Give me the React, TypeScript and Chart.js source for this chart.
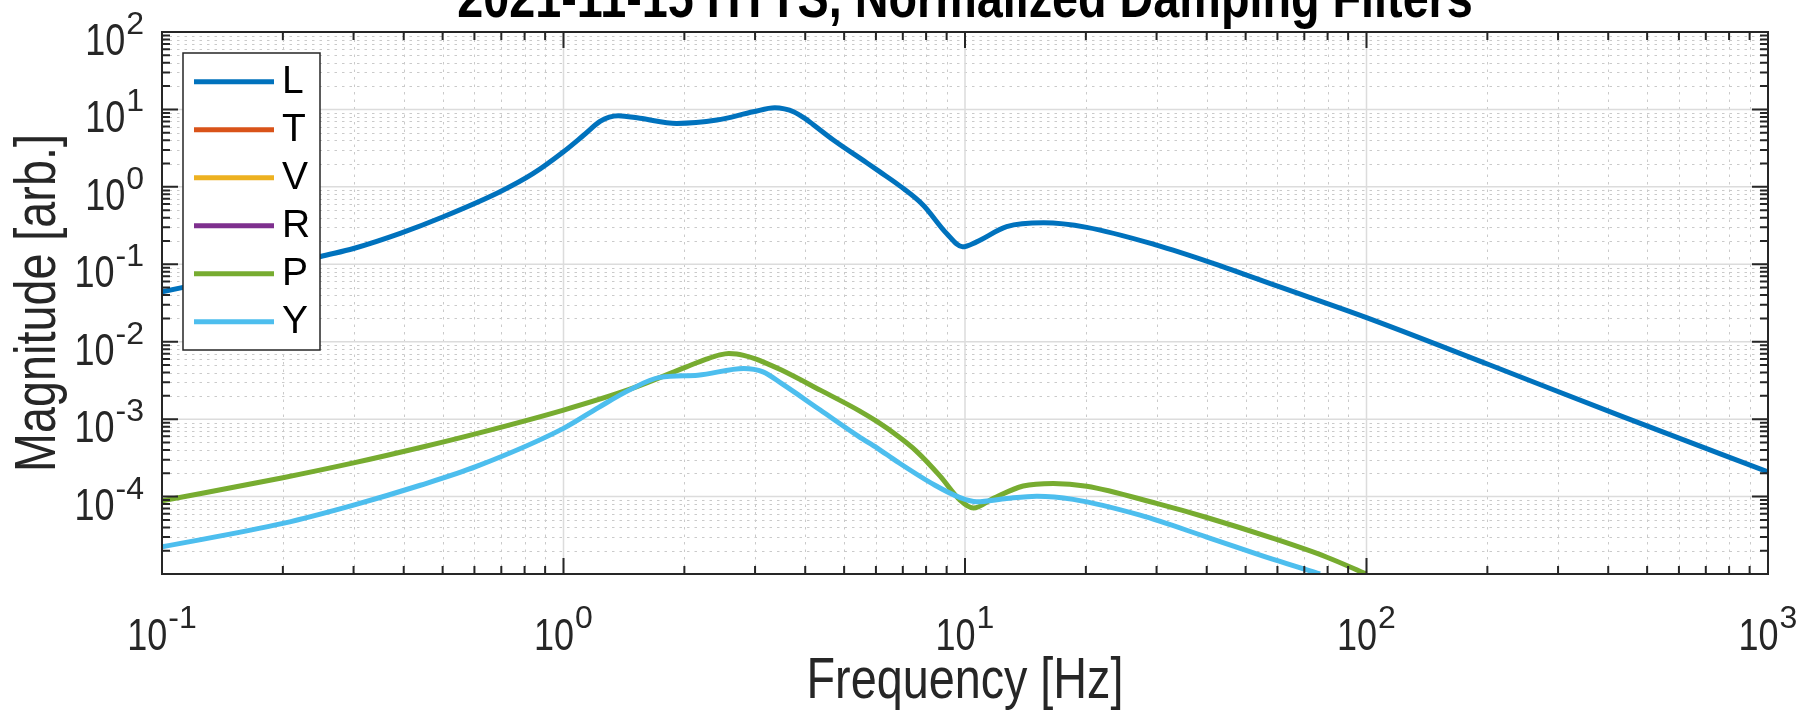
import React, { useEffect, useRef } from "react";
import { Chart, registerables } from "chart.js";

Chart.register(...registerables);

// ---------------- data ----------------
const TITLE = "2021-11-15 HTTS, Normalized Damping Filters";
const X_LABEL = "Frequency [Hz]";
const Y_LABEL = "Magnitude [arb.]";

const SERIES_NAMES = ["L", "T", "V", "R", "P", "Y"];
const SERIES_COLORS = ["#0072BD", "#D95319", "#EDB120", "#7E2F8E", "#77AC30", "#4DBEEE"];

const X_MIN = 0.1;
const X_MAX = 1000;
const Y_MIN = 1e-5;
const Y_MAX = 100;

// decade exponents used for grid / tick marks / tick labels
const X_DECADES = [-1, 0, 1, 2, 3];
const Y_DECADES = [-5, -4, -3, -2, -1, 0, 1, 2];
const X_LABELED_EXPONENTS = [-1, 0, 1, 2, 3];
const Y_LABELED_EXPONENTS = [-4, -3, -2, -1, 0, 1, 2];
const MINOR_MULTIPLIERS = [2, 3, 4, 5, 6, 7, 8, 9];

const L_FREQ = [0.1, 0.15, 0.2, 0.247, 0.3, 0.392, 0.502, 0.695, 0.841, 1.0, 1.12, 1.233, 1.3, 1.369, 1.55, 1.914, 2.41, 2.97, 3.36, 3.55, 3.74, 4.0, 4.19, 4.7, 5.69, 6.14, 6.88, 7.87, 9.0, 9.86, 10.69, 12.7, 15.7, 20.1, 30, 41.5, 60.8, 100, 203, 436, 1000];
const L_MAG = [0.0442, 0.068, 0.092, 0.125, 0.16, 0.251, 0.411, 0.865, 1.49, 2.84, 4.6, 7.0, 7.95, 8.29, 7.67, 6.6, 7.29, 9.33, 10.5, 10.15, 9.35, 7.6, 6.35, 4.03, 2.05, 1.56, 1.03, 0.58, 0.25, 0.168, 0.195, 0.306, 0.343, 0.3, 0.177, 0.103, 0.051, 0.0205, 0.005, 0.00107, 0.000208];

const T_FREQ: number[] = [];
const T_MAG: number[] = [];
const V_FREQ: number[] = [];
const V_MAG: number[] = [];
const R_FREQ: number[] = [];
const R_MAG: number[] = [];

const P_FREQ = [0.1, 0.2, 0.3, 0.44, 0.607, 1.0, 1.458, 2.025, 2.26, 2.45, 2.58, 2.7, 2.81, 3.006, 3.14, 3.49, 4.36, 5.43, 6.06, 6.76, 7.55, 8.66, 9.72, 10.49, 11.77, 13.96, 16.6, 20.1, 30, 40, 58.6, 79.4, 100];
const P_MAG = [8.8e-5, 1.75e-4, 2.72e-4, 4.3e-4, 6.5e-4, 1.31e-3, 2.42e-3, 4.74e-3, 5.9e-3, 6.75e-3, 7.05e-3, 6.95e-3, 6.65e-3, 6.0e-3, 5.5e-3, 4.3e-3, 2.37e-3, 1.3e-3, 9.2e-4, 6.2e-4, 3.9e-4, 1.85e-4, 9.0e-5, 7.1e-5, 9.5e-5, 1.37e-4, 1.48e-4, 1.36e-4, 8.15e-5, 5.37e-5, 2.88e-5, 1.66e-5, 1.0e-5];

const Y_FREQ = [0.1, 0.2, 0.3, 0.44, 0.607, 1.0, 1.224, 1.458, 1.737, 2.16, 2.81, 3.14, 3.49, 4.36, 5.43, 6.06, 6.76, 8.42, 9.72, 10.69, 12.7, 15.1, 18.6, 27.3, 40, 58.6, 76.6];
const Y_MAG = [2.24e-5, 4.5e-5, 7.75e-5, 1.4e-4, 2.45e-4, 7.6e-4, 1.42e-3, 2.37e-3, 3.46e-3, 3.7e-3, 4.52e-3, 4.08e-3, 2.89e-3, 1.31e-3, 6.0e-4, 4.2e-4, 2.85e-4, 1.4e-4, 9.7e-5, 8.55e-5, 9.45e-5, 1.01e-4, 9.2e-5, 5.75e-5, 3.0e-5, 1.54e-5, 1.0e-5];

const SERIES_FREQ = [L_FREQ, T_FREQ, V_FREQ, R_FREQ, P_FREQ, Y_FREQ];
const SERIES_MAG = [L_MAG, T_MAG, V_MAG, R_MAG, P_MAG, Y_MAG];

// ---------------- style ----------------
const FONT = "'Liberation Sans', Arial, sans-serif";
const NARROW = 0.82; // horizontal squeeze to mimic a narrow Helvetica
const TICK_NARROW = 0.8;
const AXIS_COLOR = "#262626";
const MAJOR_GRID = "#dcdcdc";
const MINOR_GRID = "#cacaca";
const TICK_FONT = 45;
const SUP_FONT = 32;
const LABEL_FONT = 57;
const TITLE_FONT = 57;
const LEGEND_FONT = 39;
const LINE_W = 5;

function majors(exps: number[]) {
  return exps.map((e) => Math.pow(10, e));
}
function minors(exps: number[]) {
  const out: number[] = [];
  exps.slice(0, -1).forEach((e) => MINOR_MULTIPLIERS.forEach((k) => out.push(k * Math.pow(10, e))));
  return out;
}

function narrowText(ctx: CanvasRenderingContext2D, text: string, x: number, y: number, align: CanvasTextAlign, rotate = 0, sx = NARROW) {
  ctx.save();
  ctx.translate(x, y);
  if (rotate) ctx.rotate(rotate);
  ctx.scale(sx, 1);
  ctx.textAlign = align;
  ctx.fillText(text, 0, 0);
  ctx.restore();
}

function drawPow(ctx: CanvasRenderingContext2D, exp: number, anchorX: number, baseline: number, align: "right" | "center", raise: number) {
  const base = "10";
  const sup = String(exp);
  ctx.font = `${TICK_FONT}px ${FONT}`;
  const wb = ctx.measureText(base).width * TICK_NARROW;
  ctx.font = `${SUP_FONT}px ${FONT}`;
  const ws = ctx.measureText(sup).width;
  const gap = 1;
  const total = wb + gap + ws;
  const left = align === "right" ? anchorX - total : anchorX - total / 2;
  ctx.textBaseline = "alphabetic";
  ctx.font = `${TICK_FONT}px ${FONT}`;
  narrowText(ctx, base, left, baseline, "left", 0, TICK_NARROW);
  ctx.font = `${SUP_FONT}px ${FONT}`;
  narrowText(ctx, sup, left + wb + gap, baseline - raise, "left", 0, 1);
}

const matlabAxes = {
  id: "matlabAxes",
  beforeDatasetsDraw(chart: any) {
    const { ctx, chartArea: a } = chart;
    const xs = chart.scales.x;
    const ys = chart.scales.y;
    ctx.save();
    ctx.fillStyle = "#ffffff";
    ctx.fillRect(a.left, a.top, a.right - a.left, a.bottom - a.top);
    // minor grid (dotted)
    ctx.strokeStyle = MINOR_GRID;
    ctx.lineWidth = 1;
    ctx.setLineDash([2.5, 5]);
    ctx.beginPath();
    for (const v of minors(X_DECADES)) {
      const p = Math.round(xs.getPixelForValue(v)) + 0.5;
      ctx.moveTo(p, a.top);
      ctx.lineTo(p, a.bottom);
    }
    for (const v of minors(Y_DECADES)) {
      const p = Math.round(ys.getPixelForValue(v)) + 0.5;
      ctx.moveTo(a.left, p);
      ctx.lineTo(a.right, p);
    }
    ctx.stroke();
    // major grid (solid)
    ctx.setLineDash([]);
    ctx.strokeStyle = MAJOR_GRID;
    ctx.lineWidth = 1.5;
    ctx.beginPath();
    for (const v of majors(X_DECADES)) {
      const p = xs.getPixelForValue(v);
      ctx.moveTo(p, a.top);
      ctx.lineTo(p, a.bottom);
    }
    for (const v of majors(Y_DECADES)) {
      const p = ys.getPixelForValue(v);
      ctx.moveTo(a.left, p);
      ctx.lineTo(a.right, p);
    }
    ctx.stroke();
    ctx.restore();
  },
  afterDatasetsDraw(chart: any) {
    const { ctx, chartArea: a } = chart;
    const xs = chart.scales.x;
    const ys = chart.scales.y;
    ctx.save();
    // tick marks, inward on all four sides
    ctx.strokeStyle = AXIS_COLOR;
    ctx.lineWidth = 2;
    ctx.beginPath();
    const xTicks = [...majors(X_DECADES).map((v) => [v, 16]), ...minors(X_DECADES).map((v) => [v, 8])];
    for (const [v, len] of xTicks) {
      const p = xs.getPixelForValue(v);
      ctx.moveTo(p, a.bottom);
      ctx.lineTo(p, a.bottom - len);
      ctx.moveTo(p, a.top);
      ctx.lineTo(p, a.top + len);
    }
    const yTicks = [...majors(Y_DECADES).map((v) => [v, 16]), ...minors(Y_DECADES).map((v) => [v, 8])];
    for (const [v, len] of yTicks) {
      const p = ys.getPixelForValue(v);
      ctx.moveTo(a.left, p);
      ctx.lineTo(a.left + len, p);
      ctx.moveTo(a.right, p);
      ctx.lineTo(a.right - len, p);
    }
    ctx.stroke();
    // axes box
    ctx.strokeRect(a.left, a.top, a.right - a.left, a.bottom - a.top);

    // tick labels
    ctx.fillStyle = AXIS_COLOR;
    for (const e of X_LABELED_EXPONENTS) {
      const p = xs.getPixelForValue(Math.pow(10, e));
      drawPow(ctx, e, p, a.bottom + 76, "center", 22);
    }
    for (const e of Y_LABELED_EXPONENTS) {
      const p = ys.getPixelForValue(Math.pow(10, e));
      drawPow(ctx, e, a.left - 18, p + 23, "right", 21);
    }

    // axis labels
    ctx.font = `${LABEL_FONT}px ${FONT}`;
    ctx.textBaseline = "alphabetic";
    narrowText(ctx, X_LABEL, (a.left + a.right) / 2, a.bottom + 124, "center");
    narrowText(ctx, Y_LABEL, a.left - 107, (a.top + a.bottom) / 2, "center", -Math.PI / 2);

    // legend
    const lx = a.left + 21;
    const ly = a.top + 21;
    const lw = 137;
    const lh = 297;
    ctx.fillStyle = "#ffffff";
    ctx.fillRect(lx, ly, lw, lh);
    ctx.strokeStyle = AXIS_COLOR;
    ctx.lineWidth = 1.5;
    ctx.strokeRect(lx, ly, lw, lh);
    ctx.font = `${LEGEND_FONT}px ${FONT}`;
    ctx.textBaseline = "middle";
    SERIES_NAMES.forEach((name, i) => {
      const cy = ly + 28.7 + i * 48;
      ctx.strokeStyle = SERIES_COLORS[i];
      ctx.lineWidth = LINE_W;
      ctx.beginPath();
      ctx.moveTo(lx + 11, cy);
      ctx.lineTo(lx + 91, cy);
      ctx.stroke();
      ctx.fillStyle = "#000000";
      narrowText(ctx, name, lx + 99, cy + 1, "left", 0, 1);
    });

    // title
    ctx.fillStyle = "#000000";
    ctx.font = `bold ${TITLE_FONT}px ${FONT}`;
    ctx.textBaseline = "alphabetic";
    narrowText(ctx, TITLE, (a.left + a.right) / 2, 17, "center");
    ctx.restore();
  },
};

export default function App() {
  const ref = useRef<HTMLCanvasElement>(null);
  useEffect(() => {
    document.body.style.margin = "0";
    document.body.style.overflow = "hidden";
    const datasets = SERIES_NAMES.map((name, i) => ({
      label: name,
      data: SERIES_FREQ[i].map((f, j) => ({ x: f, y: SERIES_MAG[i][j] })),
      borderColor: SERIES_COLORS[i],
      backgroundColor: SERIES_COLORS[i],
      borderWidth: LINE_W,
      pointRadius: 0,
      fill: false,
      cubicInterpolationMode: "monotone" as const,
      order: -i,
      clip: 0,
    }));
    const chart = new Chart(ref.current as HTMLCanvasElement, {
      type: "line",
      data: { datasets },
      options: {
        responsive: false,
        animation: false,
        devicePixelRatio: 1,
        events: [],
        layout: { padding: { left: 162, right: 36, top: 32, bottom: 137 } },
        scales: {
          x: { type: "logarithmic", min: X_MIN, max: X_MAX, display: false },
          y: { type: "logarithmic", min: Y_MIN, max: Y_MAX, display: false },
        },
        plugins: {
          legend: { display: false },
          title: { display: false },
          tooltip: { enabled: false },
        },
      },
      plugins: [matlabAxes],
    } as any);
    return () => chart.destroy();
  }, []);
  return (
    <canvas
      ref={ref}
      width={1804}
      height={711}
      style={{ display: "block", width: 1804, height: 711, background: "#ffffff" }}
    />
  );
}
